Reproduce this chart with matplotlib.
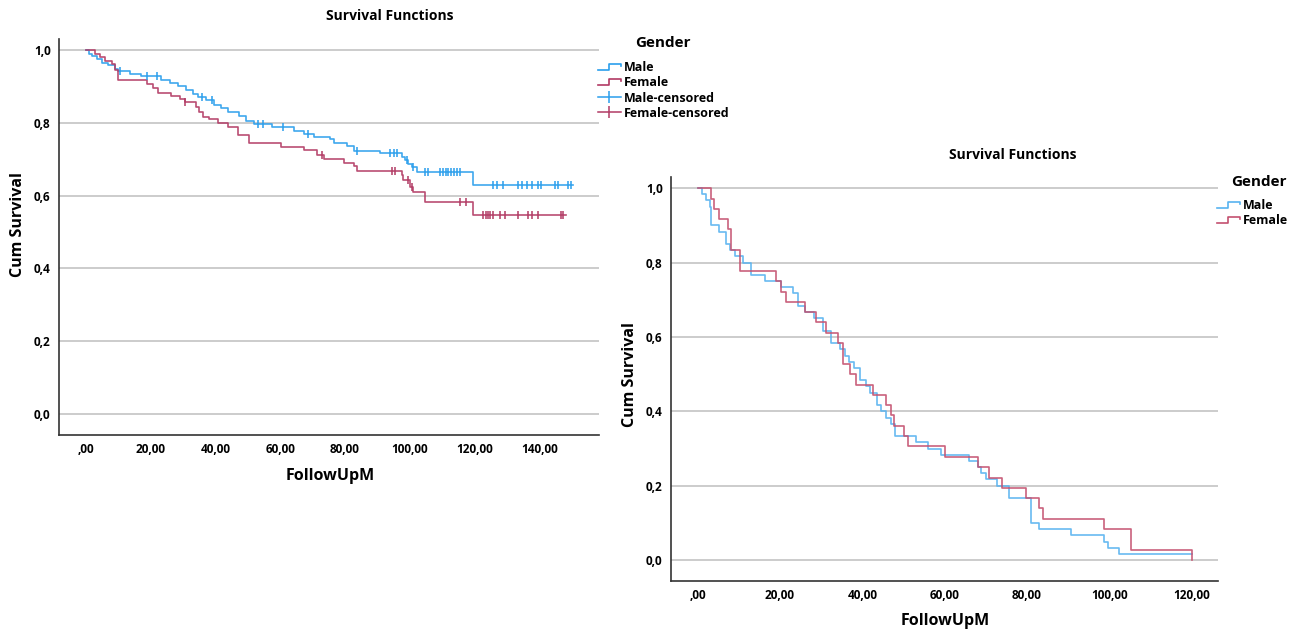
import numpy as np
import matplotlib
matplotlib.use("Agg")
import matplotlib.pyplot as plt
from matplotlib.lines import Line2D
from matplotlib.legend_handler import HandlerBase

plt.rcParams['font.family'] = ['Open Sans', 'DejaVu Sans']
plt.rcParams['font.weight'] = 'bold'

# ---- left chart (with censored cases) ----
left_male_t = [0.9, 1.9, 3.4, 5.0, 7.0, 9.05, 10.1, 13.65, 17.2, 23.4, 25.9, 28.5, 31.0, 33.0,
               34.6, 37.2, 39.7, 41.8, 43.8, 47.4, 49.4, 52.0, 57.6, 64.3, 67.3, 70.4, 75.5,
               76.5, 80.6, 82.7, 90.9, 97.5, 98.5, 99.5, 100.6, 102.1, 119.5]
left_male_s = [0.99, 0.982, 0.975, 0.965, 0.958, 0.948, 0.941, 0.935, 0.927, 0.918, 0.908, 0.90,
               0.89, 0.88, 0.87, 0.862, 0.85, 0.84, 0.83, 0.818, 0.805, 0.797, 0.787, 0.778,
               0.77, 0.76, 0.755, 0.745, 0.735, 0.722, 0.716, 0.706, 0.697, 0.687, 0.677,
               0.665, 0.628]
left_male_end = 150.3
left_male_cens = [10.7, 18.9, 22.0, 36.0, 39.0, 53.2, 54.8, 60.9, 68.6, 83.7, 94.0, 95.0, 96.0,
                  99.0, 101.0, 104.7, 105.7, 109.3, 110.3, 111.0, 111.8, 112.6, 113.6, 114.6,
                  115.4, 125.6, 127.0, 128.7, 133.4, 134.6, 136.1, 137.7, 139.5, 140.4, 144.7,
                  145.7, 148.7, 149.7]

left_female_t = [2.9, 4.45, 6.0, 8.0, 9.05, 10.1, 19.0, 20.8, 22.3, 26.4, 29.0, 30.5, 34.1, 35.1,
                 36.1, 38.2, 40.8, 43.8, 46.9, 50.5, 60.2, 67.3, 71.4, 73.5, 79.6, 82.7, 83.7,
                 97.5, 98.0, 100.0, 101.1, 104.7, 119.5]
left_female_s = [0.99, 0.98, 0.97, 0.96, 0.945, 0.918, 0.907, 0.895, 0.883, 0.874, 0.865, 0.856,
                 0.842, 0.83, 0.815, 0.81, 0.80, 0.788, 0.765, 0.743, 0.733, 0.724, 0.71, 0.70,
                 0.69, 0.68, 0.667, 0.655, 0.642, 0.624, 0.61, 0.583, 0.546]
left_female_end = 148.1
left_female_cens = [30.7, 73.0, 94.4, 95.5, 99.4, 100.7, 115.4, 117.4, 122.6, 123.6, 124.1, 124.6,
                    125.6, 127.7, 129.4, 133.4, 136.5, 137.7, 139.5, 146.6, 147.3]

# ---- right chart (no censored cases) ----
right_male_t = [1.1, 2.0, 3.1, 3.3, 5.3, 6.8, 7.8, 9.0, 11.0, 13.0, 16.3, 20.3, 23.1, 24.3, 26.0,
                28.4, 30.4, 32.4, 34.5, 35.8, 36.9, 38.0, 39.5, 41.0, 42.0, 43.5, 44.5, 45.8,
                47.0, 48.0, 53.0, 56.0, 59.2, 66.0, 68.0, 68.8, 70.0, 72.8, 75.7, 81.0, 83.0,
                90.7, 98.8, 99.8, 102.4]
right_male_s = [0.983, 0.967, 0.95, 0.90, 0.883, 0.85, 0.833, 0.817, 0.80, 0.767, 0.75, 0.733,
                0.717, 0.683, 0.667, 0.65, 0.617, 0.583, 0.567, 0.55, 0.533, 0.517, 0.483,
                0.467, 0.45, 0.417, 0.40, 0.383, 0.367, 0.333, 0.317, 0.30, 0.283, 0.267, 0.25,
                0.233, 0.217, 0.20, 0.167, 0.10, 0.083, 0.067, 0.05, 0.033, 0.017]
right_male_end = 120.0

right_female_t = [3.3, 4.1, 5.3, 7.4, 8.2, 10.2, 19.1, 20.3, 21.4, 26.0, 28.8, 31.2, 34.0, 35.3,
                  37.0, 38.5, 42.5, 45.8, 47.0, 47.8, 50.2, 51.0, 60.0, 68.0, 70.9, 73.9, 79.8,
                  83.0, 84.0, 98.8, 105.3, 120.0]
right_female_s = [0.972, 0.944, 0.917, 0.889, 0.833, 0.778, 0.75, 0.722, 0.694, 0.667, 0.639,
                  0.611, 0.583, 0.528, 0.50, 0.472, 0.444, 0.417, 0.389, 0.361, 0.333, 0.306,
                  0.278, 0.25, 0.222, 0.194, 0.167, 0.139, 0.111, 0.083, 0.028, 0.0]
right_female_end = 120.0

left_xticks = [0, 20, 40, 60, 80, 100, 120, 140]
right_xticks = [0, 20, 40, 60, 80, 100, 120]
yticks = [0.0, 0.2, 0.4, 0.6, 0.8, 1.0]

W, H = 1302, 633


def km_at(times, surv, t):
    idx = np.searchsorted(times, t, side='right') - 1
    return np.asarray(surv)[idx]


def draw_km(ax, times, surv, end, color):
    x = np.r_[0.0, times, end]
    y = np.r_[1.0, surv, surv[-1]]
    ax.step(x, y, where='post', color=color, lw=1.2, alpha=0.9)


def x_fmt(v):
    s = f"{v:.2f}".replace('.', ',')
    return s[1:] if s.startswith('0') else s


def style_axes(ax, xticks, xlim, ylim):
    ax.set_xlim(*xlim)
    ax.set_ylim(*ylim)
    ax.set_xticks(xticks)
    ax.set_xticklabels([x_fmt(v) for v in xticks])
    ax.set_yticks(yticks)
    ax.set_yticklabels([f"{v:.1f}".replace('.', ',') for v in yticks])
    ax.tick_params(length=0, labelsize=8.5, pad=6)
    ax.yaxis.grid(True, color='#c8c8c8', lw=1.3)
    ax.set_axisbelow(True)
    for s in ['top', 'right']:
        ax.spines[s].set_visible(False)
    for s in ['left', 'bottom']:
        ax.spines[s].set_color('#333333')
        ax.spines[s].set_linewidth(1.2)


class StepHandler(HandlerBase):
    def create_artists(self, legend, orig_handle, xdescent, ydescent, width, height, fontsize, trans):
        xs = np.array([0, 0.5, 0.5, 1.0, 1.0]) * width - xdescent
        ys = np.array([0.15, 0.15, 0.85, 0.85, 0.55]) * height - ydescent
        ln = Line2D(xs, ys, color=orig_handle.get_color(), lw=1.2)
        ln.set_transform(trans)
        return [ln]


def fx(px):
    return px / W


def fy(py):
    return 1 - py / H


fig = plt.figure(figsize=(W / 100, H / 100), dpi=100)

# left
blue1, red1 = '#2A9EEC', '#B23A64'
ax1 = fig.add_axes([fx(59), fy(435), fx(599) - fx(59), fy(39) - fy(435)])
draw_km(ax1, left_male_t, left_male_s, left_male_end, blue1)
draw_km(ax1, left_female_t, left_female_s, left_female_end, red1)
ax1.plot(left_male_cens, km_at(left_male_t, left_male_s, left_male_cens), ls='none',
         marker='|', ms=6, mew=1.1, color=blue1)
ax1.plot(left_female_cens, km_at(left_female_t, left_female_s, left_female_cens), ls='none',
         marker='|', ms=6, mew=1.1, color=red1)
style_axes(ax1, left_xticks, (-8.2, 158.3), (-0.058, 1.03))

fig.text(fx(390), fy(16), 'Survival Functions', ha='center', va='center', fontsize=10)
fig.text(fx(18), fy(225), 'Cum Survival', ha='center', va='center', rotation=90, fontsize=11.5)
fig.text(fx(330), fy(476), 'FollowUpM', ha='center', va='center', fontsize=11.5)
fig.text(fx(663), fy(43), 'Gender', ha='center', va='center', fontsize=11)

h_m = Line2D([], [], color=blue1)
h_f = Line2D([], [], color=red1)
h_mc = Line2D([], [], color=blue1, lw=1.1, marker='|', ms=9, mew=1.1)
h_fc = Line2D([], [], color=red1, lw=1.1, marker='|', ms=9, mew=1.1)
fig.legend([h_m, h_f, h_mc, h_fc], ['Male', 'Female', 'Male-censored', 'Female-censored'],
           loc='upper left', bbox_to_anchor=(fx(598), fy(61)), frameon=False, fontsize=9,
           borderpad=0, borderaxespad=0, handlelength=1.8, handletextpad=0.25,
           labelspacing=0.18, handler_map={h_m: StepHandler(), h_f: StepHandler()})

# right
blue2, red2 = '#58B3F0', '#C4506F'
ax2 = fig.add_axes([fx(671), fy(581), fx(1218) - fx(671), fy(177) - fy(581)])
draw_km(ax2, right_male_t, right_male_s, right_male_end, blue2)
draw_km(ax2, right_female_t, right_female_s, right_female_end, red2)
style_axes(ax2, right_xticks, (-6.45, 126.4), (-0.056, 1.03))

fig.text(fx(1013), fy(155), 'Survival Functions', ha='center', va='center', fontsize=10)
fig.text(fx(630), fy(375), 'Cum Survival', ha='center', va='center', rotation=90, fontsize=11.5)
fig.text(fx(945), fy(621), 'FollowUpM', ha='center', va='center', fontsize=11.5)
fig.text(fx(1259), fy(182), 'Gender', ha='center', va='center', fontsize=11)

h_m2 = Line2D([], [], color=blue2)
h_f2 = Line2D([], [], color=red2)
fig.legend([h_m2, h_f2], ['Male', 'Female'],
           loc='upper left', bbox_to_anchor=(fx(1217), fy(199)), frameon=False, fontsize=9,
           borderpad=0, borderaxespad=0, handlelength=1.8, handletextpad=0.25,
           labelspacing=0.18, handler_map={h_m2: StepHandler(), h_f2: StepHandler()})

fig.savefig('out.png', dpi=100)
